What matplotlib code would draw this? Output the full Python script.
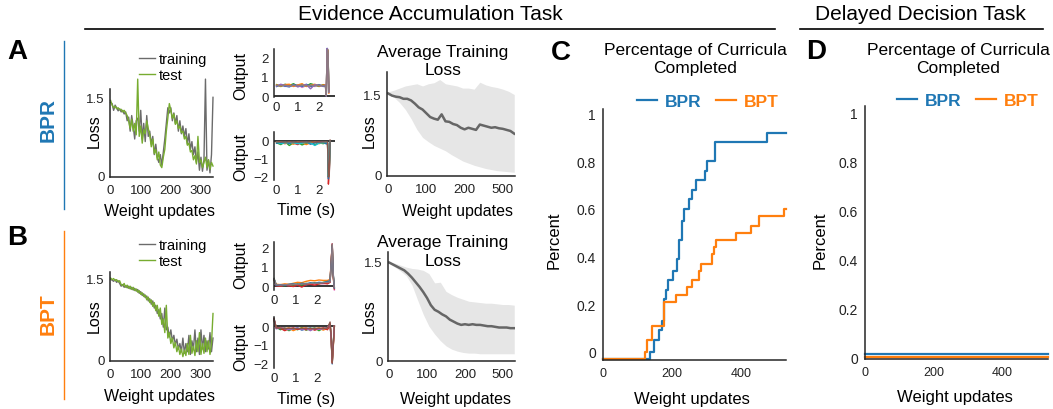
import numpy as np
import matplotlib
matplotlib.use('Agg')
import matplotlib.pyplot as plt
from matplotlib.lines import Line2D

plt.rcParams['font.family'] = ['Liberation Sans', 'DejaVu Sans']

# ---------------- data ----------------
updates = list(range(0, 345, 5))

bpr_train = [1.40, 1.38, 1.25, 1.35, 1.30, 1.24, 1.28, 1.22, 1.25, 1.18, 1.22, 1.05, 1.12, 0.85,
             1.15, 0.95, 0.70, 1.05, 1.10, 0.85, 1.25, 0.70, 1.00, 0.65, 1.15, 0.75, 0.85, 0.60,
             0.75, 0.40, 0.60, 0.35, 0.25, 0.40, 0.20, 0.45, 0.70, 1.00, 1.30, 1.20, 1.30, 1.05,
             1.20, 1.00, 1.15, 0.85, 1.05, 0.80, 0.95, 0.75, 0.90, 0.60, 0.80, 0.50, 0.65, 0.40,
             0.55, 0.25, 0.45, 0.10, 0.35, 0.08, 0.30, 1.85, 0.10, 0.30, 0.05, 0.40, 1.50]
bpr_test = [1.44, 1.35, 1.30, 1.33, 1.28, 1.30, 1.26, 1.27, 1.22, 1.25, 1.20, 1.15, 1.05, 0.90,
            1.08, 0.85, 1.00, 0.78, 1.85, 0.75, 0.95, 0.62, 0.88, 0.80, 1.05, 0.90, 0.78, 0.55,
            0.70, 0.42, 0.50, 0.30, 0.45, 0.20, 0.15, 0.35, 0.50, 0.85, 1.10, 1.38, 1.25, 1.10,
            1.18, 0.98, 1.05, 0.90, 0.95, 0.82, 0.85, 0.70, 0.75, 0.58, 0.62, 0.45, 0.48, 0.30,
            0.38, 0.22, 0.75, 0.25, 0.30, 0.15, 0.25, 0.35, 0.15, 0.30, 0.12, 0.25, 0.18]
bpt_train = [1.48, 1.46, 1.44, 1.47, 1.42, 1.45, 1.40, 1.35, 1.38, 1.33, 1.36, 1.32, 1.35, 1.30,
             1.33, 1.28, 1.31, 1.26, 1.29, 1.22, 1.25, 1.18, 1.21, 1.14, 1.17, 1.08, 1.12, 1.02,
             1.08, 0.95, 1.00, 0.85, 0.92, 0.75, 0.85, 0.60, 0.95, 0.55, 0.60, 0.42, 0.55, 0.35,
             0.45, 0.28, 0.38, 0.20, 0.30, 0.15, 0.40, 0.12, 0.30, 0.15, 0.45, 0.10, 0.35, 0.20,
             0.55, 0.15, 0.40, 0.10, 0.55, 0.20, 0.45, 0.15, 0.35, 0.20, 0.50, 0.15, 0.40]
bpt_test = [1.50, 1.47, 1.49, 1.45, 1.47, 1.43, 1.45, 1.38, 1.36, 1.40, 1.33, 1.37, 1.31, 1.35,
            1.29, 1.33, 1.27, 1.30, 1.24, 1.27, 1.20, 1.23, 1.16, 1.19, 1.10, 1.15, 1.05, 1.10,
            0.98, 1.05, 0.90, 1.00, 0.80, 0.95, 0.65, 0.75, 0.50, 1.00, 0.40, 0.50, 0.30, 0.40,
            0.22, 0.32, 0.15, 0.25, 0.10, 0.20, 0.06, 0.18, 0.08, 0.30, 0.10, 0.45, 0.12, 0.25,
            0.08, 0.35, 0.15, 0.50, 0.10, 0.30, 0.12, 0.40, 0.15, 0.35, 0.10, 0.30, 0.85]

# network output traces
t_a_top = [0, 0.2, 0.4, 0.6, 0.8, 1.0, 1.2, 1.4, 1.6, 1.8, 2.0, 2.2, 2.3, 2.34, 2.38, 2.42, 2.46]
bpr_out_top = [
    [0.55, 0.60, 0.50, 0.58, 0.52, 0.60, 0.45, 0.55, 0.60, 0.50, 0.58, 0.55, 0.50, 0.02, 2.45, 2.20, 0.20],
    [0.60, 0.50, 0.62, 0.55, 0.65, 0.50, 0.60, 0.52, 0.65, 0.58, 0.50, 0.60, 0.55, 0.05, 2.40, 2.30, 0.30],
    [0.50, 0.58, 0.52, 0.48, 0.60, 0.55, 0.50, 0.62, 0.50, 0.55, 0.60, 0.50, 0.55, 0.00, 2.50, 2.25, 0.25],
    [0.58, 0.52, 0.60, 0.62, 0.50, 0.58, 0.65, 0.50, 0.55, 0.62, 0.52, 0.58, 0.60, 0.10, 2.35, 2.40, 0.15],
    [0.52, 0.62, 0.55, 0.50, 0.58, 0.48, 0.55, 0.60, 0.38, 0.60, 0.55, 0.52, 0.58, 0.00, 2.50, 2.10, 0.20],
    [0.56, 0.54, 0.57, 0.53, 0.56, 0.55, 0.57, 0.54, 0.56, 0.55, 0.57, 0.54, 0.56, 0.00, 2.45, 2.45, 0.20],
]
t_a_bot = [0, 0.2, 0.4, 0.6, 0.8, 1.0, 1.2, 1.4, 1.6, 1.8, 2.0, 2.2, 2.3, 2.4, 2.44, 2.48, 2.52]
bpr_out_bot = [
    [-0.05, -0.10, -0.15, -0.05, -0.12, -0.20, -0.05, -0.10, -0.15, -0.08, -0.05, -0.12, -0.10, -0.20, -2.40, -1.80, 0.00],
    [-0.10, -0.20, -0.05, -0.25, -0.10, -0.08, -0.22, -0.12, -0.05, -0.20, -0.10, -0.15, -0.08, -0.15, -2.00, -1.50, 0.00],
    [-0.08, -0.05, -0.12, -0.10, -0.18, -0.05, -0.10, -0.20, -0.10, -0.05, -0.15, -0.08, -0.12, -0.10, -1.90, -1.60, -0.05],
    [-0.12, -0.08, -0.05, -0.15, -0.05, -0.12, -0.08, -0.05, -0.18, -0.10, -0.08, -0.05, -0.15, -0.12, -2.10, -1.70, 0.00],
    [-0.05, -0.15, -0.10, -0.08, -0.10, -0.15, -0.12, -0.08, -0.10, -0.25, -0.12, -0.10, -0.05, -0.10, -1.95, -1.40, -0.02],
    [-0.05, -0.05, -0.06, -0.05, -0.06, -0.05, -0.05, -0.06, -0.05, -0.05, -0.06, -0.05, -0.05, -0.05, -2.00, -1.90, 0.05],
]
t_b = [0, 0.1, 0.3, 0.5, 0.7, 0.9, 1.1, 1.3, 1.5, 1.7, 1.9, 2.1, 2.3, 2.5, 2.62, 2.67, 2.72, 2.77, 2.82]
bpt_out_top = [
    [0.35, 0.05, 0.02, 0.05, 0.03, 0.08, 0.05, 0.10, 0.08, 0.12, 0.10, 0.15, 0.12, 0.18, 0.20, 1.20, 2.20, 0.60, -0.20],
    [0.30, 0.10, 0.08, 0.12, 0.10, 0.15, 0.20, 0.18, 0.25, 0.30, 0.28, 0.32, 0.30, 0.30, 0.35, 1.30, 2.10, 0.50, -0.10],
    [0.40, 0.08, 0.05, 0.02, 0.08, 0.05, 0.12, 0.05, 0.15, 0.10, 0.18, 0.12, 0.20, 0.22, 0.25, 1.10, 2.15, 0.55, -0.05],
    [0.35, 0.02, 0.00, 0.05, 0.02, -0.02, 0.05, -0.05, 0.08, 0.10, 0.05, 0.12, 0.15, 0.12, 0.20, 1.25, 2.20, 0.45, -0.15],
    [0.38, 0.05, 0.08, 0.05, 0.10, 0.12, 0.08, 0.15, 0.12, 0.18, 0.15, 0.20, 0.18, 0.25, 0.28, 1.15, 2.10, 0.60, -0.10],
    [0.40, 0.08, 0.06, 0.08, 0.07, 0.09, 0.10, 0.11, 0.12, 0.14, 0.15, 0.16, 0.18, 0.20, 0.22, 1.20, 2.20, 0.55, -0.05],
]
bpt_out_bot = [
    [0.40, -0.10, -0.15, -0.20, -0.12, -0.18, -0.10, -0.22, -0.15, -0.10, -0.20, -0.12, -0.18, -0.10, 0.10, -0.60, -2.05, -1.00, 0.00],
    [0.35, -0.05, -0.20, -0.10, -0.25, -0.12, -0.20, -0.08, -0.22, -0.15, -0.10, -0.25, -0.12, -0.15, 0.05, -0.50, -1.90, -0.90, -0.05],
    [0.30, -0.12, -0.08, -0.15, -0.10, -0.25, -0.15, -0.12, -0.10, -0.20, -0.15, -0.10, -0.22, -0.12, 0.15, -0.70, -1.95, -1.10, 0.00],
    [0.38, -0.08, -0.12, -0.25, -0.15, -0.10, -0.18, -0.15, -0.20, -0.12, -0.22, -0.15, -0.10, -0.20, 0.08, -0.55, -2.00, -1.00, -0.02],
    [0.36, -0.15, -0.10, -0.12, -0.20, -0.15, -0.10, -0.20, -0.12, -0.25, -0.12, -0.18, -0.15, -0.08, 0.12, -0.65, -1.85, -0.95, 0.00],
    [0.42, -0.10, -0.12, -0.13, -0.12, -0.13, -0.14, -0.13, -0.12, -0.14, -0.13, -0.12, -0.13, -0.10, 0.22, -0.60, -2.00, -1.05, 0.00],
]
trace_colors_a = ['#e377c2', '#2ca02c', '#1f77b4', '#ff7f0e', '#9467bd', '#8c7a80']
trace_colors_a2 = ['#d62728', '#2ca02c', '#ff7f0e', '#1f77b4', '#17becf', '#8c564b']
trace_colors_b = ['#e377c2', '#ff7f0e', '#2ca02c', '#d62728', '#1f77b4', '#8c7a80']
trace_colors_b2 = ['#1f77b4', '#2ca02c', '#ff7f0e', '#d62728', '#9467bd', '#8c564b']

# average training loss: spread band (every 15 updates) and mean (every 10 updates)
band_updates = list(range(0, 345, 15))
bpr_hi = [1.55, 1.58, 1.62, 1.66, 1.68, 1.70, 1.66, 1.70, 1.72, 1.78, 1.70, 1.68, 1.66, 1.62, 1.62,
          1.60, 1.73, 1.68, 1.65, 1.63, 1.60, 1.56, 1.50]
bpr_lo = [1.50, 1.45, 1.35, 1.22, 1.05, 0.85, 0.70, 0.62, 0.55, 0.50, 0.45, 0.38, 0.32, 0.26, 0.22,
          0.18, 0.15, 0.12, 0.10, 0.08, 0.07, 0.06, 0.05]
bpt_hi = [1.50, 1.48, 1.45, 1.42, 1.40, 1.39, 1.37, 1.32, 1.18, 1.19, 1.05, 1.00, 0.96, 0.93, 0.90,
          0.89, 0.88, 0.87, 0.87, 0.86, 0.85, 0.85, 0.84]
bpt_lo = [1.48, 1.42, 1.36, 1.29, 1.15, 0.92, 0.70, 0.52, 0.40, 0.30, 0.22, 0.17, 0.14, 0.12, 0.11,
          0.11, 0.10, 0.10, 0.10, 0.10, 0.10, 0.10, 0.10]
mean_updates = list(range(0, 335, 10))
bpr_avg = [1.52, 1.48, 1.46, 1.45, 1.42, 1.42, 1.39, 1.33, 1.26, 1.22, 1.15, 1.08, 1.05, 1.03, 1.13,
           1.00, 0.99, 0.95, 0.93, 0.88, 0.85, 0.88, 0.86, 0.84, 0.94, 0.92, 0.90, 0.88, 0.89, 0.87,
           0.86, 0.84, 0.82, 0.77]
bpt_avg = [1.49, 1.46, 1.43, 1.40, 1.37, 1.32, 1.26, 1.19, 1.12, 1.04, 0.95, 0.84, 0.77, 0.74, 0.70,
           0.67, 0.62, 0.59, 0.56, 0.54, 0.55, 0.54, 0.55, 0.54, 0.54, 0.53, 0.52, 0.52, 0.51, 0.50,
           0.50, 0.50, 0.49, 0.49]

# curricula completed
cur_bpr_x = [0, 136, 148, 162, 172, 177, 182, 188, 204, 214, 220, 230, 235, 249, 257, 270, 296, 302, 325, 476, 530]
cur_bpr_y = [-0.03, 0.0, 0.05, 0.09, 0.13, 0.22, 0.26, 0.30, 0.34, 0.39, 0.47, 0.55, 0.60, 0.64, 0.68,
             0.72, 0.76, 0.80, 0.88, 0.92, 0.92]
cur_bpt_x = [0, 121, 127, 143, 177, 211, 244, 257, 278, 285, 317, 322, 327, 385, 428, 452, 525, 530]
cur_bpt_y = [-0.03, 0.0, 0.05, 0.11, 0.21, 0.24, 0.27, 0.30, 0.34, 0.37, 0.41, 0.44, 0.47, 0.50, 0.53,
             0.57, 0.60, 0.60]
dd_x = [0, 535]
dd_bpr = [0.012, 0.012]
dd_bpt = [0.0, 0.0]

BLUE = '#1f77b4'
ORANGE = '#ff7f0e'
GRAY = '#6b6b6b'
GREEN = '#77ac30'
SPINE = '#262626'

# ---------------- figure ----------------
W, H = 1053, 410
fig = plt.figure(figsize=(W / 100, H / 100), dpi=100)


def add_ax(x0, y0, x1, y1):
    # pixel box, origin top-left
    ax = fig.add_axes([x0 / W, 1 - y1 / H, (x1 - x0) / W, (y1 - y0) / H])
    ax.patch.set_visible(False)
    for s in ['top', 'right']:
        ax.spines[s].set_visible(False)
    for s in ['left', 'bottom']:
        ax.spines[s].set_color(SPINE)
        ax.spines[s].set_linewidth(1.1)
    ax.tick_params(length=0, labelsize=9.5, pad=4, colors='#222222')
    return ax


def txt(x, y, s, **kw):
    kw.setdefault('ha', 'center')
    kw.setdefault('va', 'center')
    fig.text(x / W, 1 - y / H, s, **kw)


def hline(x0, x1, y, **kw):
    fig.add_artist(Line2D([x0 / W, x1 / W], [1 - y / H, 1 - y / H], transform=fig.transFigure, **kw))


def vline(x, y0, y1, **kw):
    fig.add_artist(Line2D([x / W, x / W], [1 - y0 / H, 1 - y1 / H], transform=fig.transFigure, **kw))


# headers
txt(430, 15, 'Evidence Accumulation Task', fontsize=15)
txt(920, 15, 'Delayed Decision Task', fontsize=15)
hline(85, 775, 30, color='black', lw=1.2)
hline(800, 1043, 30, color='black', lw=1.2)

# row labels
txt(17, 52, 'A', fontsize=20, fontweight='bold')
txt(17, 238, 'B', fontsize=20, fontweight='bold')
txt(561, 53, 'C', fontsize=20, fontweight='bold')
txt(816, 52, 'D', fontsize=20, fontweight='bold')
txt(48, 120, 'BPR', fontsize=15, fontweight='bold', color=BLUE, rotation=90)
txt(48, 314, 'BPT', fontsize=15, fontweight='bold', color=ORANGE, rotation=90)
vline(64, 42, 210, color=BLUE, lw=1.0)
vline(64, 232, 400, color=ORANGE, lw=1.0)


def loss_panel(box, ylim, train, test, leg_top):
    ax = add_ax(*box)
    ax.plot(updates, train, color=GRAY, lw=1.0, clip_on=False, label='training')
    ax.plot(updates, test, color=GREEN, lw=1.0, clip_on=False, label='test')
    ax.set_xlim(-2, 340)
    ax.set_ylim(*ylim)
    ax.set_xticks([0, 100, 200, 300])
    ax.set_yticks([0, 1.5])
    ax.set_yticklabels(['0', '1.5'])
    ax.tick_params(axis='x', pad=5)
    ax.legend(loc='upper left', bbox_to_anchor=(139 / W, 1 - leg_top / H), bbox_transform=fig.transFigure,
              frameon=False, fontsize=10.5, handlelength=1.1, handletextpad=0.25, labelspacing=0.15,
              borderpad=0, borderaxespad=0)
    return ax


loss_panel((110, 90, 213, 178), (-0.03, 1.66), bpr_train, bpr_test, 53)
txt(94, 131, 'Loss', fontsize=11.5, rotation=90)
txt(160, 212, 'Weight updates', fontsize=11.5)
loss_panel((110, 273, 213, 362), (-0.02, 1.61), bpt_train, bpt_test, 239)
txt(94, 316, 'Loss', fontsize=11.5, rotation=90)
txt(160, 397, 'Weight updates', fontsize=11.5)


def out_panel(box, t, traces, colors, xlim, ylim, yticks):
    ax = add_ax(*box)
    ax.spines['bottom'].set_visible(False)
    for tr, c in zip(traces, colors):
        ax.plot(t, tr, color=c, lw=1.0, clip_on=False)
    ax.axhline(0, color='black', lw=1.1, zorder=0)
    ax.set_xlim(*xlim)
    ax.set_ylim(*ylim)
    ax.set_xticks([0, 1, 2])
    ax.set_yticks(yticks)
    ax.tick_params(axis='x', pad=3)
    return ax


out_panel((274, 50, 335, 98), t_a_top, bpr_out_top, trace_colors_a, (-0.12, 2.75), (-0.05, 2.47), [0, 1, 2])
out_panel((274, 133, 335, 181), t_a_bot, bpr_out_bot, trace_colors_a2, (-0.12, 2.75), (-2.17, 0.5), [-2, -1, 0])
txt(241, 76, 'Output', fontsize=11.5, rotation=90)
txt(241, 157, 'Output', fontsize=11.5, rotation=90)
txt(306, 211, 'Time (s)', fontsize=11.5)
out_panel((274, 243, 335, 291), t_b, bpt_out_top, trace_colors_b, (0, 2.85), (-0.2, 2.3), [0, 1, 2])
out_panel((274, 318, 335, 369), t_b, bpt_out_bot, trace_colors_b2, (0, 2.85), (-2.27, 0.49), [-2, -1, 0])
txt(241, 265, 'Output', fontsize=11.5, rotation=90)
txt(241, 347, 'Output', fontsize=11.5, rotation=90)
txt(306, 400, 'Time (s)', fontsize=11.5)


def avg_panel(box, ylim, mean, lo, hi):
    ax = add_ax(*box)
    ax.fill_between(band_updates, lo, hi, color='#e6e6e6', lw=0)
    ax.plot(mean_updates, mean, color='#666666', lw=1.8)
    ax.set_xlim(-3, 332)
    ax.set_ylim(*ylim)
    ax.set_xticks([0, 100, 200, 300])
    ax.set_xticklabels(['0', '100', '200', '500'])
    ax.set_yticks([0, 1.5])
    ax.set_yticklabels(['0', '1.5'])
    ax.tick_params(axis='x', pad=5)
    return ax


avg_panel((387, 73, 515, 177), (-0.02, 1.92), bpr_avg, bpr_lo, bpr_hi)
txt(443, 53, 'Average Training', fontsize=12.5)
txt(443, 71, 'Loss', fontsize=12.5)
txt(369, 131, 'Loss', fontsize=11.5, rotation=90)
txt(457, 212, 'Weight updates', fontsize=11.5)
avg_panel((388, 253, 515, 362), (-0.01, 1.65), bpt_avg, bpt_lo, bpt_hi)
txt(443, 243, 'Average Training', fontsize=12.5)
txt(443, 261, 'Loss', fontsize=12.5)
txt(369, 316, 'Loss', fontsize=11.5, rotation=90)
txt(455, 400, 'Weight updates', fontsize=11.5)


def curric_panel(box, xlim, ylim, xb, yb, xo, yo, leg_x, leg_y):
    ax = add_ax(*box)
    ax.plot(xb, yb, color=BLUE, lw=1.6, drawstyle='steps-post', label='BPR', clip_on=False)
    ax.plot(xo, yo, color=ORANGE, lw=1.6, drawstyle='steps-post', label='BPT', clip_on=False)
    ax.set_xlim(*xlim)
    ax.set_ylim(*ylim)
    ax.set_xticks([0, 200, 400])
    ax.set_yticks([0, 0.2, 0.4, 0.6, 0.8, 1])
    ax.set_yticklabels(['0', '0.2', '0.4', '0.6', '0.8', '1'])
    ax.tick_params(axis='x', labelsize=9, pad=5)
    ax.tick_params(axis='y', labelsize=10, pad=5)
    leg = ax.legend(ncol=2, loc='center left', bbox_to_anchor=(leg_x / W, 1 - leg_y / H),
                    bbox_transform=fig.transFigure, frameon=False,
                    prop={'size': 12.5, 'weight': 'bold'}, handlelength=1.15, handletextpad=0.45,
                    columnspacing=0.85, borderpad=0, borderaxespad=0)
    for t, c in zip(leg.get_texts(), [BLUE, ORANGE]):
        t.set_color(c)
    return ax


curric_panel((603, 110, 786, 361), (0, 530), (-0.035, 1.02), cur_bpr_x, cur_bpr_y, cur_bpt_x, cur_bpt_y, 637, 102)
txt(695, 51, 'Percentage of Curricula', fontsize=12.5)
txt(695, 69, 'Completed', fontsize=12.5)
txt(554, 240, 'Percent', fontsize=12, rotation=90)
txt(692, 400, 'Weight updates', fontsize=12)

curric_panel((865, 107, 1048, 360), (0, 535), (-0.008, 1.025), dd_x, dd_bpr, dd_x, dd_bpt, 897, 101)
txt(958, 51, 'Percentage of Curricula', fontsize=12.5)
txt(958, 69, 'Completed', fontsize=12.5)
txt(820, 240, 'Percent', fontsize=12, rotation=90)
txt(955, 398, 'Weight updates', fontsize=12)

fig.savefig('out.png', dpi=100)
